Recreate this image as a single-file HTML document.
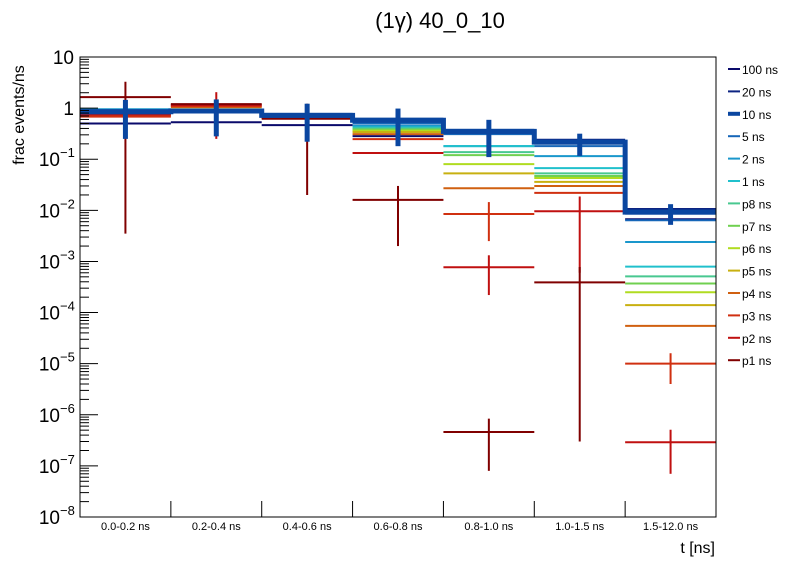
<!DOCTYPE html>
<html><head><meta charset="utf-8"><style>
body{margin:0;background:#fff;}
svg{display:block;font-family:"Liberation Sans",sans-serif;}
</style></head><body>
<svg id="chart" width="796" height="572" xmlns="http://www.w3.org/2000/svg"></svg>
<script>
const categories=["0.0-0.2 ns","0.2-0.4 ns","0.4-0.6 ns","0.6-0.8 ns","0.8-1.0 ns","1.0-1.5 ns","1.5-12.0 ns"];
const seriesNames=["100 ns","20 ns","10 ns","5 ns","2 ns","1 ns","p8 ns","p7 ns","p6 ns","p5 ns","p4 ns","p3 ns","p2 ns","p1 ns"];
const seriesColors=["#0a0a6b","#0d2482","#0a46a0","#1666b8","#1a97cc","#20c0cc","#48c890","#70d050","#b0dc20","#c8b010","#d06010","#d03010","#c01010","#800000"];
const v100=[0.50,0.53,0.465,0.283,0.36,0.226,0.0067];
const v20=[0.85,0.9,0.72,0.58,0.37,0.24,0.0106];
const v10=[0.85,0.88,0.72,0.58,0.35,0.216,0.0092];
const v5=[0.9,0.9,0.73,0.5,0.31,0.18,0.0064];
const v2=[0.95,0.92,0.74,0.45,0.18,0.115,0.0024];
const v1=[0.9,0.9,0.75,0.42,0.18,0.067,0.00079];
const vp8=[0.85,0.9,0.73,0.40,0.138,0.053,0.00051];
const vp7=[0.8,0.9,0.72,0.38,0.12,0.047,0.00037];
const vp6=[0.78,0.9,0.72,0.36,0.08,0.043,0.00025];
const vp5=[0.75,0.95,0.70,0.34,0.053,0.036,0.00014];
const vp4=[0.72,1.05,0.68,0.31,0.027,0.030,5.5e-5];
const vp3=[0.68,1.1,0.66,0.247,0.0085,0.022,1e-5];
const vp2=[0.75,1.15,0.64,0.132,7.7e-4,0.0096,2.9e-7];
const vp1=[1.64,1.2,0.62,0.016,4.6e-7,3.9e-4,0];
const e10=[0.6,0.6,0.5,0.4,0.24,0.1,0.004];
const ep3=[0,0,0,0,0.006,0,0.6e-5];
const ep2=[0,0.9,0,0,5.5e-4,0.009,2.2e-7];
const ep1=[1.6365,0,0.6,0.014,3.8e-7,3.897e-4,0];
const yTicks=[10,1,0.1,0.01,1e-3,1e-4,1e-5,1e-6,1e-7,1e-8];
const yTickLabels=["10","1","10|-1","10|-2","10|-3","10|-4","10|-5","10|-6","10|-7","10|-8"];
const allVals=[v100,v20,v10,v5,v2,v1,vp8,vp7,vp6,vp5,vp4,vp3,vp2,vp1];
const errs={2:e10,11:ep3,12:ep2,13:ep1};

const NS="http://www.w3.org/2000/svg";
const svg=document.getElementById('chart');
const X0=80,X1=716,Y0=57,Y1=517;
const bw=(X1-X0)/categories.length;
function xs(i){return X0+i*bw;}
function ys(v){if(v<=1e-8)return Y1;return Y0+(1-Math.log10(v))*(Y1-Y0)/9;}
function mk(t,a,p){const e=document.createElementNS(NS,t);for(const k in a)e.setAttribute(k,a[k]);(p||svg).appendChild(e);return e;}

const title=mk('text',{x:440,y:28,'font-size':22,'text-anchor':'middle'});
title.textContent="(1γ) 40_0_10";



const plot=mk('g',{});



function drawSeries(s){
  const g=mk('g',{},plot);
  
  
  const c=seriesColors[s];const w=s===2?5:2;const vals=allVals[s];const er=errs[s];
  if(s===2){
    let d='';
    vals.forEach((v,i)=>{d+=(i===0?'M':'L')+xs(i)+','+ys(v)+'L'+xs(i+1)+','+ys(v);});
    const p=mk('path',{d:d,fill:'none',stroke:c,'stroke-width':w},g);
    
    
  }
  vals.forEach((v,i)=>{
    if(v<=0)return;
    const l=mk('line',{x1:xs(i),x2:xs(i+1),y1:ys(v),y2:ys(v),stroke:c,'stroke-width':w},g);
    
    
    if(er&&er[i]>0){
      const cx=xs(i)+bw/2;
      const lo=Math.max(v-er[i],1e-9);
      const eb=mk('line',{x1:cx,x2:cx,y1:ys(v+er[i]),y2:Math.min(ys(lo),Y1),stroke:c,'stroke-width':s===2?5:2},g);
      
      
    }
  });
}
[0,1,3,4,5,6,7,8,9,10,11,12,13,2].forEach(drawSeries);

const fr=mk('rect',{x:X0,y:Y0,width:X1-X0,height:Y1-Y0,fill:'none',stroke:'#000','stroke-width':1});



const ya=mk('g',{});


for(let d=-8;d<1;d++){for(let m=1;m<10;m++){const v=m*Math.pow(10,d);const y=ys(v);
  mk('line',{x1:X0,x2:X0+(m===1?18:9),y1:y,y2:y,stroke:'#000','stroke-width':1},ya);}}
yTicks.forEach((v,i)=>{
  const parts=yTickLabels[i].split('|');const y=ys(v);
  const t=mk('text',{x:parts[1]?60:74,y:y+7,'font-size':19,'text-anchor':'end'},ya);
  t.textContent=parts[0];
  
  
  if(parts[1]){const s=mk('text',{x:60,y:y-2,'font-size':13},ya);s.textContent='−'+parts[1].slice(1);
    
    }
});
const yt=mk('text',{x:24,y:115,'font-size':16,'text-anchor':'middle',transform:'rotate(-90 24 115)'});
yt.textContent="frac events/ns";



const xa=mk('g',{});


categories.forEach((c,i)=>{
  if(i>0)mk('line',{x1:xs(i),x2:xs(i),y1:Y1,y2:Y1-16,stroke:'#000'},xa);
  const t=mk('text',{x:xs(i)+bw/2,y:530,'font-size':11,'text-anchor':'middle'},xa);
  t.textContent=c;
  
  
});
const xt=mk('text',{x:715,y:553,'font-size':16,'text-anchor':'end'});
xt.textContent="t [ns]";



const lg=mk('g',{});


seriesNames.forEach((n,i)=>{
  const y=69+i*22.4;
  const e=mk('g',{},lg);
  
  
  mk('line',{x1:728,x2:740,y1:y,y2:y,stroke:seriesColors[i],'stroke-width':i===2?4:2},e);
  const t=mk('text',{x:742,y:y+5,'font-size':12},e);t.textContent=n;
});
</script>
</body></html>
